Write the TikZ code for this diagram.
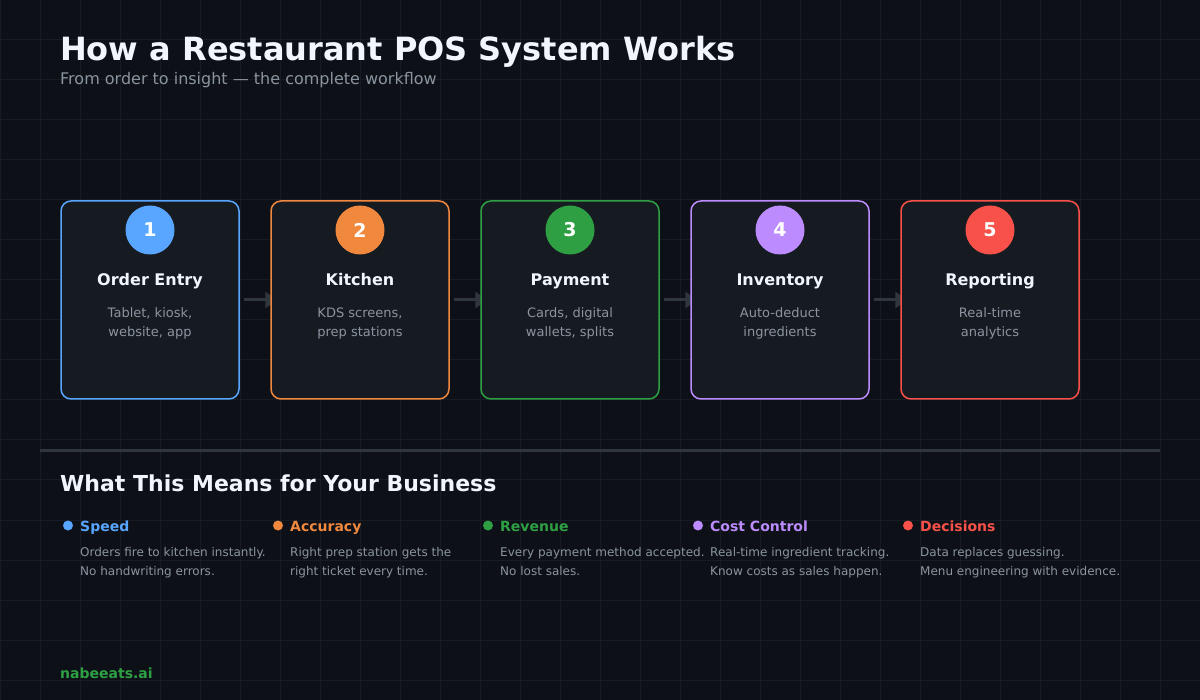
\documentclass[tikz,border=0pt]{standalone}
\usepackage{fontspec}
\setmainfont{DejaVu Sans}
\usetikzlibrary{arrows.meta}
\definecolor{bg}{HTML}{0D1117}
\definecolor{gridc}{HTML}{171C24}
\definecolor{boxfill}{HTML}{161B22}
\definecolor{linegray}{HTML}{30363D}
\definecolor{txtwhite}{HTML}{F0F6FC}
\definecolor{txtgray}{HTML}{8B949E}
\definecolor{cblue}{HTML}{58A6FF}
\definecolor{corange}{HTML}{F0883E}
\definecolor{cgreen}{HTML}{2EA043}
\definecolor{cpurple}{HTML}{BC8CFF}
\definecolor{cred}{HTML}{F85149}
\pgfdeclarelayer{gridlayer}
\pgfdeclarelayer{arrowlayer}
\pgfsetlayers{gridlayer,arrowlayer,main}
\tikzset{
  stagebox/.style={rectangle, rounded corners=10pt, fill=boxfill, line width=1.5pt, minimum width=178pt, minimum height=198pt, inner sep=0pt},
  numcirc/.style={circle, minimum size=49pt, inner sep=0pt, text=white, font=\bfseries\fontsize{19}{22}\selectfont},
  stagetitle/.style={anchor=base, text=txtwhite, font=\bfseries\fontsize{16}{19}\selectfont, inner sep=0pt},
  stagedesc/.style={anchor=base, text=txtgray, font=\fontsize{13}{16}\selectfont, inner sep=0pt},
  flowarrow/.style={draw=linegray, line width=3pt, -{Triangle[length=12pt,width=16pt]}},
  dot/.style={circle, minimum size=10pt, inner sep=0pt},
  benlabel/.style={anchor=base west, font=\bfseries\fontsize{14}{17}\selectfont, inner sep=0pt},
  bendesc/.style={anchor=base west, text=txtgray, font=\fontsize{12}{14}\selectfont, inner sep=0pt},
}
\newcommand\stageblock[6]{%
  \node[stagebox, draw=#3] (b#1) at (#2,300) {};
  \node[numcirc, fill=#3] (c#1) at (#2,230) {#1};
  \node[stagetitle] (t#1) at (#2,285.5) {#4};
  \node[stagedesc] (da#1) at (#2,318) {#5};
  \node[stagedesc] (db#1) at (#2,336.5) {#6};
}
\newcommand\benefitblock[6]{%
  \node[dot, fill=#3] (p#1) at (#2+8,525.5) {};
  \node[benlabel, text=#3] (l#1) at (#2+20,531) {#4};
  \node[bendesc] (ea#1) at (#2+20,556.5) {#5};
  \node[bendesc] (eb#1) at (#2+20,575) {#6};
}
\begin{document}
\begin{tikzpicture}[x=1pt,y=-1pt]
\useasboundingbox (0,0) rectangle (1200,700);
\begin{pgfonlayer}{gridlayer}
\fill[bg] (0,0) rectangle (1200,700);
\foreach \gx in {0,40,...,1200} \draw[gridc, line width=1pt] (\gx,0) -- (\gx,700);
\foreach \gy in {0,40,...,680} \draw[gridc, line width=1pt] (0,\gy) -- (1200,\gy);
\end{pgfonlayer}

\node[anchor=base west, inner sep=0pt, text=txtwhite, font=\bfseries\fontsize{32}{38}\selectfont] (title) at (60,61) {How a Restaurant POS System Works};
\node[anchor=base west, inner sep=0pt, text=txtgray, font=\fontsize{16}{19}\selectfont] (subtitle) at (60,85) {From order to insight — the complete workflow};

\stageblock{1}{150}{cblue}{Order Entry}{Tablet, kiosk,}{website, app}
\stageblock{2}{360}{corange}{Kitchen}{KDS screens,}{prep stations}
\stageblock{3}{570}{cgreen}{Payment}{Cards, digital}{wallets, splits}
\stageblock{4}{780}{cpurple}{Inventory}{Auto-deduct}{ingredients}
\stageblock{5}{990}{cred}{Reporting}{Real-time}{analytics}

\begin{pgfonlayer}{arrowlayer}
\foreach \a/\b in {1/2,2/3,3/4,4/5}
  \draw[flowarrow] ([xshift=4pt]b\a.east) -- ([xshift=7pt]b\b.west);
\end{pgfonlayer}

\coordinate (divl) at (40,451);
\coordinate (divr) at (1160,451);
\draw[linegray, line width=3pt] (divl) -- (divr);

\node[anchor=base west, inner sep=0pt, text=txtwhite, font=\bfseries\fontsize{22}{26}\selectfont] (sec) at (60,491) {What This Means for Your Business};

\benefitblock{1}{60}{cblue}{Speed}{Orders fire to kitchen instantly.}{No handwriting errors.}
\benefitblock{2}{270}{corange}{Accuracy}{Right prep station gets the}{right ticket every time.}
\benefitblock{3}{480}{cgreen}{Revenue}{Every payment method accepted.}{No lost sales.}
\benefitblock{4}{690}{cpurple}{Cost Control}{Real-time ingredient tracking.}{Know costs as sales happen.}
\benefitblock{5}{900}{cred}{Decisions}{Data replaces guessing.}{Menu engineering with evidence.}

\node[anchor=base west, inner sep=0pt, text=cgreen, font=\bfseries\fontsize{14}{17}\selectfont] (footer) at (60,678) {nabeeats.ai};
\end{tikzpicture}
\end{document}
